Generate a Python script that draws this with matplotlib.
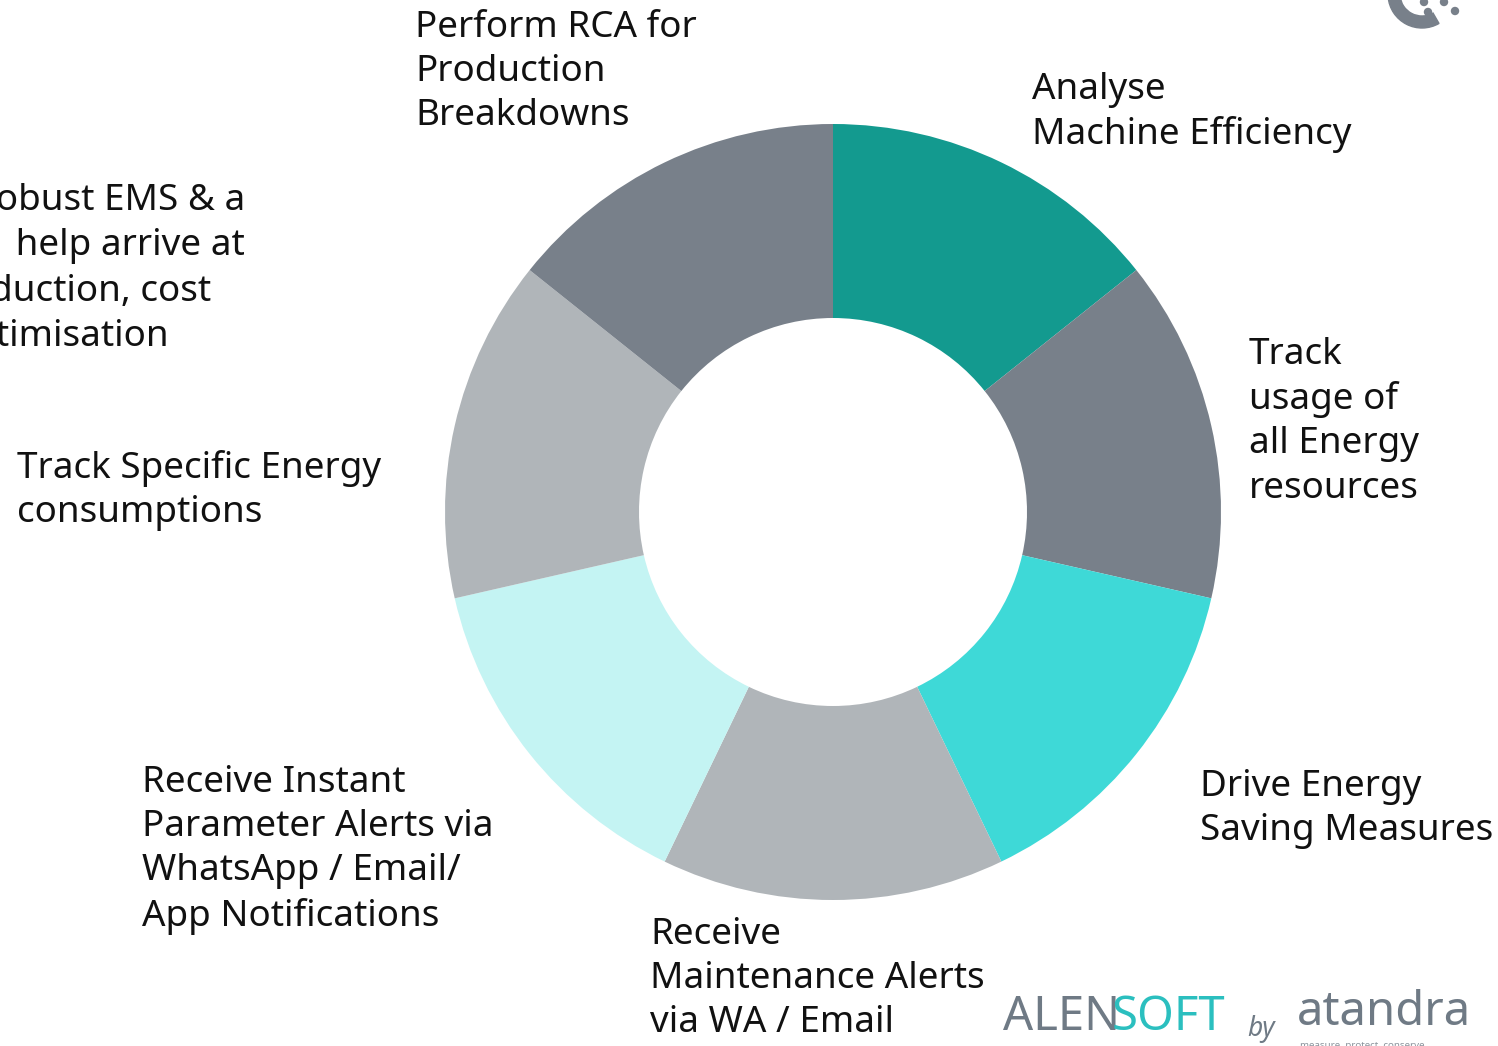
import matplotlib.pyplot as plt
from matplotlib.patches import Wedge, Circle

# segment labels, clockwise from 12 o'clock
labels = [
    'Analyse\nMachine Efficiency',
    'Track\nusage of\nall Energy\nresources',
    'Drive Energy\nSaving Measures',
    'Receive\nMaintenance Alerts\nvia WA / Email',
    'Receive Instant\nParameter Alerts via\nWhatsApp / Email/\nApp Notifications',
    'Track Specific Energy\nconsumptions',
    'Perform RCA for\nProduction\nBreakdowns',
]
shares = [1, 1, 1, 1, 1, 1, 1]
colors = ['#139a8f', '#78808a', '#3ed9d7', '#b0b5b9', '#c4f4f3', '#b0b5b9', '#78808a']

# label anchor (left x, cap top y) in pixels
label_pos = [(1032, 75), (1249, 340), (1200, 772), (650, 920), (142, 768), (17, 453), (415, 13)]

# clipped caption on the left edge
side_lines = ['Robust EMS & a', 'will  help arrive at', 'production, cost', 'optimisation']
side_right = [245, 245, 211, 169]

W, H = 1498, 1046
plt.rcParams['font.family'] = ['Noto Sans', 'DejaVu Sans']

fig = plt.figure(figsize=(W / 100, H / 100), dpi=100)
ax = fig.add_axes([0, 0, 1, 1])

ax.pie(shares, colors=colors, startangle=90, counterclock=False,
       center=(833, H - 512), radius=388,
       wedgeprops=dict(width=194, edgecolor='none'))
ax.set_xlim(0, W)
ax.set_ylim(0, H)
ax.set_aspect('equal')
ax.axis('off')

fs = 26.5
for txt, (x, y) in zip(labels, label_pos):
    ax.text(x, H - y + 3, txt, fontsize=fs, ha='left', va='top',
            linespacing=1.3, color='#111111')

for i, (line, xr) in enumerate(zip(side_lines, side_right)):
    ax.text(xr, H - (186 + 45.4 * i) + 3, line, fontsize=fs, ha='right', va='top',
            color='#111111')

# logos bottom right
ax.text(1003, H - 1041, 'ALEN', fontsize=34, color='#6f7a85', ha='left', va='bottom',
        fontweight='medium')
ax.text(1112, H - 1041, 'SOFT', fontsize=34, color='#2bbfbf', ha='left', va='bottom',
        fontweight='medium')
ax.text(1247, H - 1043, 'by', fontsize=19, color='#6f7a85', style='italic', ha='left', va='bottom')
ax.text(1297, H - 1036, 'atandra', fontsize=34, color='#6f7a85', ha='left', va='bottom')
ax.text(1300, H - 1050, 'measure. protect. conserve', fontsize=7, color='#8a939c',
        ha='left', va='bottom')

# partial logo top right
ax.add_patch(Wedge((1422, H + 6), 34, 185, 300, width=12, color='#78808a'))
for cx, cy in [(1424, 2), (1444, 2), (1428, 12), (1455, 11)]:
    ax.add_patch(Circle((cx, H - cy), 3.5, color='#78808a'))

fig.savefig('out.png', dpi=100)
